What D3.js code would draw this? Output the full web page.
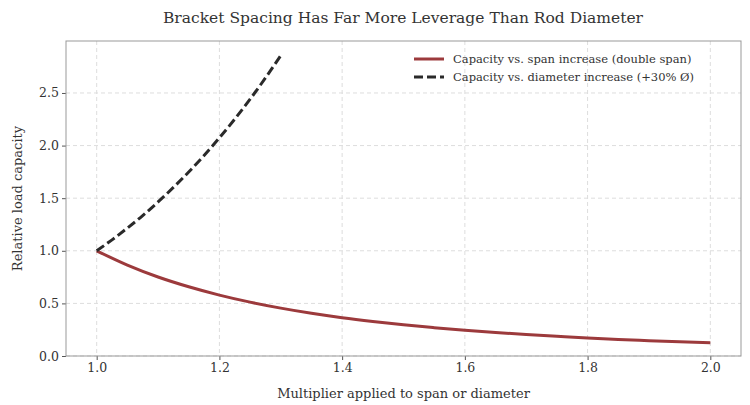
<!DOCTYPE html>
<html><head><meta charset="utf-8">
<script src="https://cdn.jsdelivr.net/npm/d3@7"></script>
<style>body{margin:0;background:#fff} text{font-family:'DejaVu Serif',serif !important}</style></head>
<body><svg id="c" width="750" height="405"></svg>
<script>
const spanX=[1.00,1.05,1.10,1.15,1.20,1.25,1.30,1.35,1.40,1.45,1.50,1.55,1.60,1.65,1.70,1.75,1.80,1.85,1.90,1.95,2.00];
const spanY=[1.000,0.864,0.751,0.658,0.579,0.512,0.455,0.406,0.364,0.328,0.296,0.269,0.244,0.223,0.204,0.187,0.171,0.158,0.146,0.135,0.125];
const diaX=[1.000,1.025,1.050,1.075,1.100,1.125,1.150,1.175,1.200,1.225,1.250,1.275,1.300];
const diaY=[1.000,1.104,1.216,1.335,1.464,1.602,1.749,1.906,2.074,2.252,2.441,2.643,2.856];
const xTicks=[1.0,1.2,1.4,1.6,1.8,2.0];
const yTicks=[0.0,0.5,1.0,1.5,2.0,2.5];
const svg=d3.select("#c");
const L=66,R=741,T=41,B=356;
const x=d3.scaleLinear().domain([0.95,2.05]).range([L,R]);
const y=d3.scaleLinear().domain([0,2.994]).range([B,T]);
const g=svg.append("g");
g.selectAll(".gx").data(xTicks).join("line").attr("x1",d=>x(d)).attr("x2",d=>x(d)).attr("y1",T).attr("y2",B).attr("stroke","#ddd").attr("stroke-dasharray","4,3");
g.selectAll(".gy").data(yTicks).join("line").attr("y1",d=>y(d)).attr("y2",d=>y(d)).attr("x1",L).attr("x2",R).attr("stroke","#ddd").attr("stroke-dasharray","4,3");
const xa=svg.append("g").attr("transform",`translate(0,${B})`).call(d3.axisBottom(x).tickValues(xTicks).tickFormat(d3.format(".1f")).tickSize(4));
const ya=svg.append("g").attr("transform",`translate(${L},0)`).call(d3.axisLeft(y).tickValues(yTicks).tickFormat(d3.format(".1f")).tickSize(4));
[xa,ya].forEach(a=>{a.select(".domain").remove();a.selectAll("text").attr("font-size",12.5).attr("fill","#333");a.selectAll("line").attr("stroke","#555");});
svg.append("rect").attr("x",L).attr("y",T).attr("width",R-L).attr("height",B-T).attr("fill","none").attr("stroke","#999");
const line=d3.line().x(d=>x(d[0])).y(d=>y(d[1])).curve(d3.curveMonotoneX);
svg.append("path").attr("d",line(spanX.map((v,i)=>[v,spanY[i]]))).attr("fill","none").attr("stroke","#9c3a3c").attr("stroke-width",3);
svg.append("path").attr("d",line(diaX.map((v,i)=>[v,diaY[i]]))).attr("fill","none").attr("stroke","#2a2a2a").attr("stroke-width",3).attr("stroke-dasharray","9,4");
svg.append("text").attr("x",403).attr("y",23).attr("text-anchor","middle").attr("font-size",15.5).attr("fill","#333").text("Bracket Spacing Has Far More Leverage Than Rod Diameter");
svg.append("text").attr("x",(L+R)/2).attr("y",398).attr("text-anchor","middle").attr("font-size",13).attr("fill","#333").text("Multiplier applied to span or diameter");
svg.append("text").attr("transform",`translate(22,${(T+B)/2}) rotate(-90)`).attr("text-anchor","middle").attr("font-size",13).attr("fill","#333").text("Relative load capacity");
const leg=[["Capacity vs. span increase (double span)","#9c3a3c",null],["Capacity vs. diameter increase (+30% Ø)","#2a2a2a","9,4"]];
leg.forEach((l,i)=>{const yy=59+i*18;
svg.append("line").attr("x1",414).attr("x2",444).attr("y1",yy).attr("y2",yy).attr("stroke",l[1]).attr("stroke-width",3).attr("stroke-dasharray",l[2]);
svg.append("text").attr("x",453).attr("y",yy+4).attr("font-size",11.5).attr("fill","#333").text(l[0]);});
</script></body></html>
